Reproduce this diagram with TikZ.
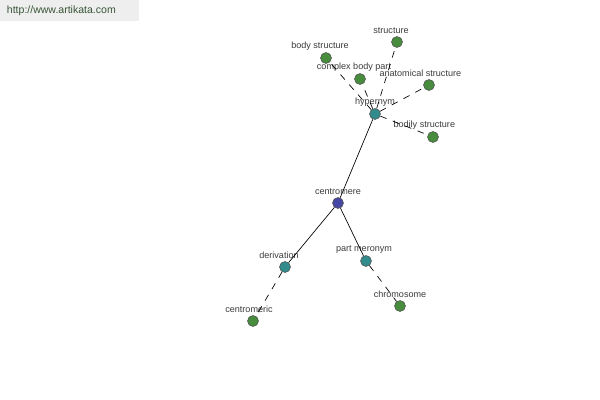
\documentclass[tikz,border=0pt]{standalone}
\usepackage{fontspec}
\setmainfont{Liberation Sans}
\usetikzlibrary{positioning}

\definecolor{hubblue}{RGB}{70,70,165}
\definecolor{relteal}{RGB}{50,140,140}
\definecolor{leafgreen}{RGB}{72,140,62}
\definecolor{lblgray}{RGB}{60,60,60}
\definecolor{sitegreen}{RGB}{55,85,55}
\definecolor{bargray}{RGB}{238,238,238}

\tikzset{
  word/.style={circle,draw=black!70,line width=0.4pt,minimum size=8.2pt,inner sep=0pt},
  hub/.style={word,fill=hubblue},
  rel/.style={word,fill=relteal},
  leaf/.style={word,fill=leafgreen},
  lbl/.style={font=\fontsize{6.8}{7.5}\selectfont,text=lblgray,inner sep=0.5pt},
  link/.style={line width=0.5pt},
  dlink/.style={line width=0.5pt,dash pattern=on 5pt off 5pt}
}

\begin{document}
\begin{tikzpicture}[x=0.75pt,y=-0.75pt]
   \useasboundingbox[fill=white] (0,0) rectangle (600,400);
   \fill[bargray] (0,0) rectangle (139,21);
   \node[lbl,anchor=west,text=sitegreen,font=\fontsize{7.9}{9}\selectfont] (site) at (6,11) {http://www.artikata.com};

   % nodes
   \node[hub]  (centromere) at (338,203) [label={[lbl,label distance=1pt]above:centromere}] {};
   \node[rel]  (hypernym)   at (375,114) [label={[lbl,label distance=1pt]above:hypernym}] {};
   \node[rel]  (derivation) at (285,267) [label={[lbl,label distance=1pt,xshift=-4.5pt]above:derivation}] {};
   \node[rel]  (meronym)    at (366,261) [label={[lbl,label distance=1pt,xshift=-1.5pt]above:part meronym}] {};
   \node[leaf] (centromeric) at (253,321) [label={[lbl,label distance=1pt,xshift=-3pt]above:centromeric}] {};
   \node[leaf] (chromosome) at (400,306) [label={[lbl,label distance=1pt]above:chromosome}] {};
   \node[leaf] (structure)  at (397,42)  [label={[lbl,label distance=1pt,xshift=-4.5pt]above:structure}] {};
   \node[leaf] (bodystr)    at (326,58)  [label={[lbl,label distance=1pt,xshift=-4.5pt]above:body structure}] {};
   \node[leaf] (complex)    at (360,79)  [label={[lbl,label distance=1pt,xshift=-4.5pt]above:complex body part}] {};
   \node[leaf] (anatomical) at (429,85)  [label={[lbl,label distance=1pt,xshift=-6.5pt]above:anatomical structure}] {};
   \node[leaf] (bodily)     at (433,137) [label={[lbl,label distance=1pt,xshift=-6.5pt]above:bodily structure}] {};

   % links
    \path[link]
    (centromere) edge (hypernym)
    (centromere) edge (derivation)
    (centromere) edge (meronym);
    \path[dlink]
    (derivation) edge (centromeric)
    (meronym) edge (chromosome)
    (hypernym) edge (structure)
    (hypernym) edge (bodystr)
    (hypernym) edge (complex)
    (hypernym) edge (anatomical)
    (hypernym) edge (bodily);
\end{tikzpicture}
\end{document}
